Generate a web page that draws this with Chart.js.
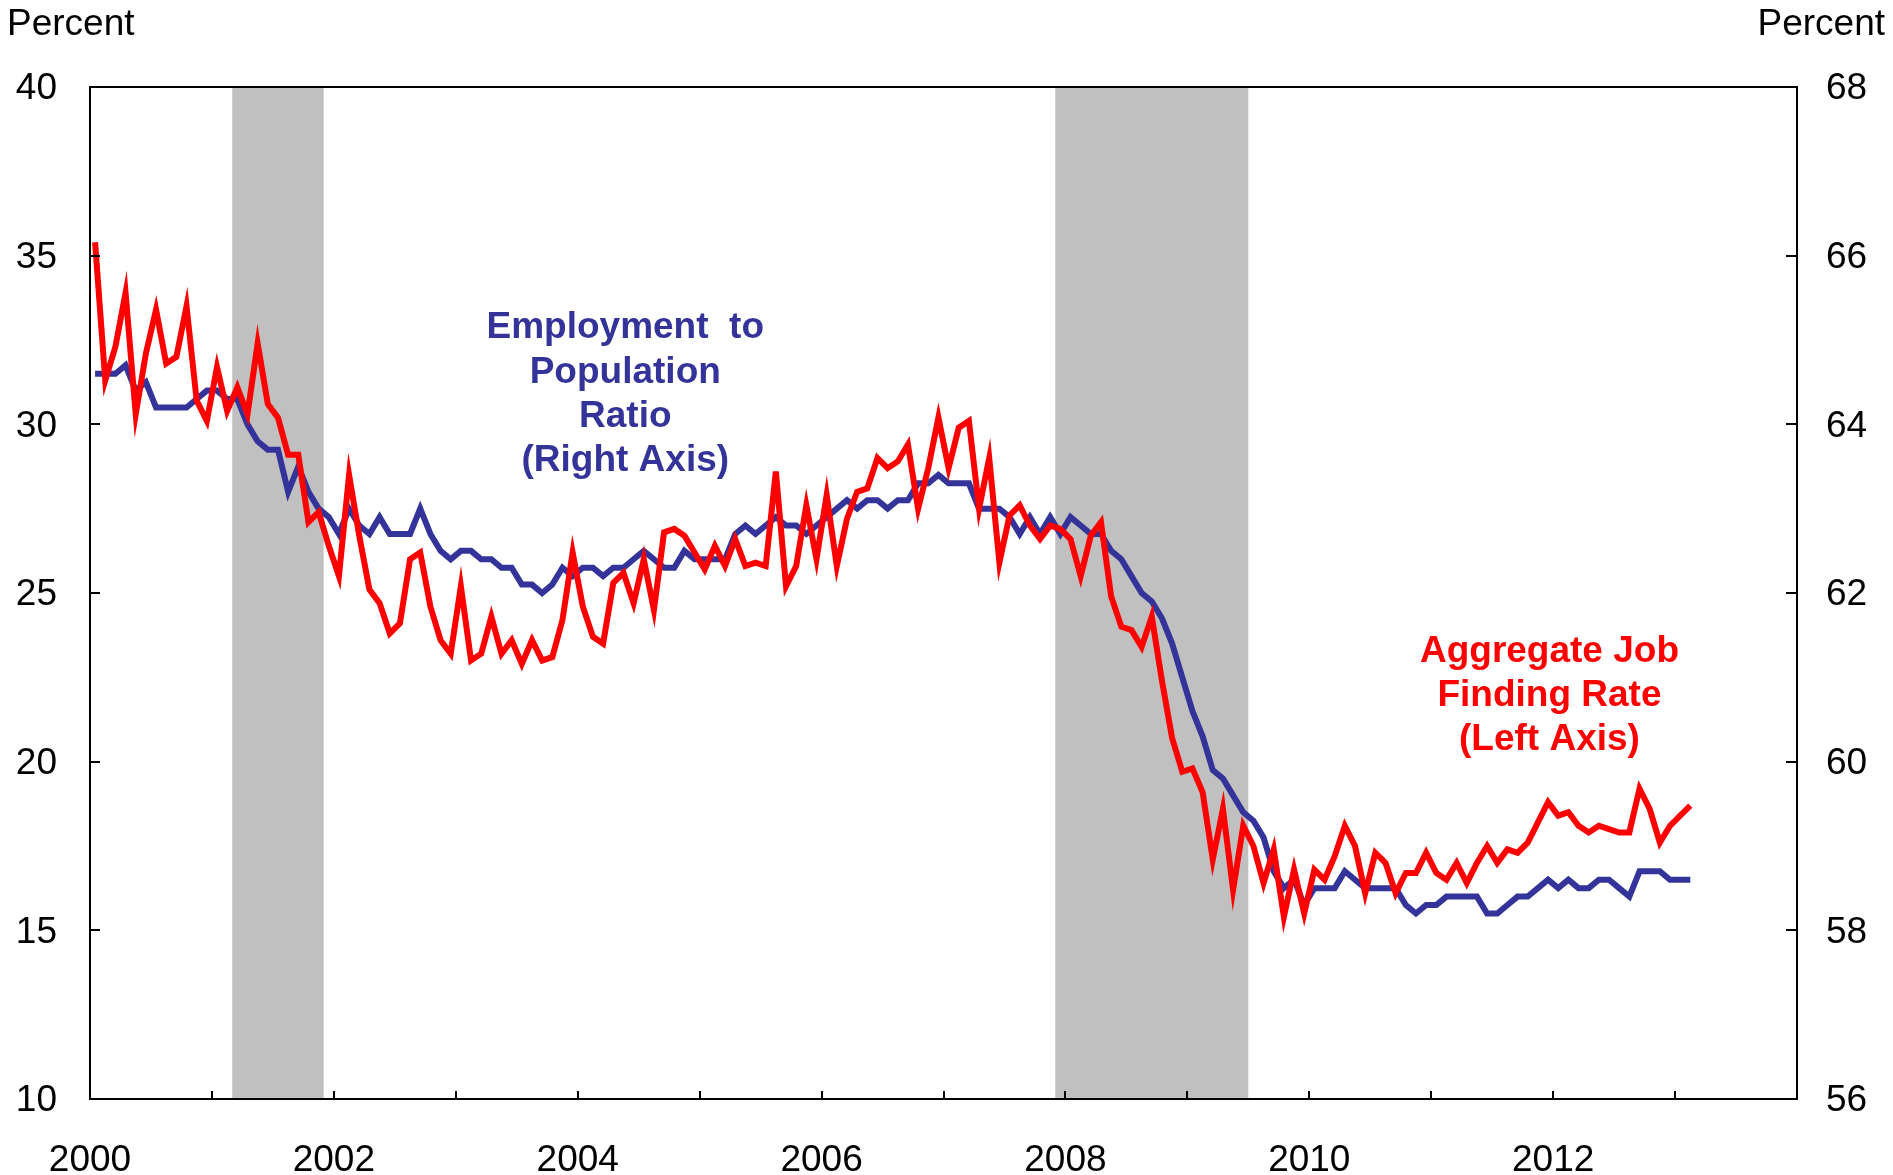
<!DOCTYPE html>
<html>
<head>
<meta charset="utf-8">
<script src="https://cdn.jsdelivr.net/npm/chart.js@4.4.1/dist/chart.umd.min.js"></script>
<style>
  html, body { margin: 0; padding: 0; background: #ffffff; }
  #wrap { width: 1893px; height: 1175px; position: relative; }
</style>
</head>
<body>
<div id="wrap"><canvas id="c" width="1893" height="1175"></canvas></div>
<script>
// ---------------- DATA ----------------
const startYear = 2000;   // first observation: January 2000 (monthly data)
const jobFindingRate = [ // Aggregate Job Finding Rate, percent (left axis)
  35.4,31.3,32.3,33.9,30.3,32.1,33.4,31.8,32.0,33.5,30.7,30.1,
  31.7,30.4,31.1,30.3,32.4,30.6,30.2,29.1,29.1,27.1,27.4,26.4,
  25.5,28.5,26.7,25.1,24.7,23.8,24.1,26.0,26.2,24.6,23.6,23.2,
  25.2,23.0,23.2,24.3,23.2,23.6,22.9,23.6,23.0,23.1,24.2,26.2,
  24.6,23.7,23.5,25.3,25.6,24.7,26.0,24.5,26.8,26.9,26.7,26.2,
  25.7,26.4,25.8,26.6,25.8,25.9,25.8,28.6,25.2,25.8,27.6,26.0,
  27.9,25.8,27.2,28.0,28.1,29.0,28.7,28.9,29.4,27.5,28.7,30.2,
  28.7,29.9,30.1,27.5,29.0,25.9,27.3,27.6,27.0,26.6,27.0,26.9,
  26.6,25.5,26.7,27.1,24.9,24.0,23.9,23.4,24.3,22.4,20.7,19.7,
  19.8,19.1,17.1,18.6,16.2,18.1,17.5,16.4,17.4,15.4,16.8,15.5,
  16.8,16.5,17.2,18.1,17.5,16.1,17.3,17.0,16.1,16.7,16.7,17.3,
  16.7,16.5,17.0,16.4,17.0,17.5,17.0,17.4,17.3,17.6,18.2,18.8,
  18.4,18.5,18.1,17.9,18.1,18.0,17.9,17.9,19.2,18.6,17.6,18.1,
  18.4,18.7
];
const empPopRatio = [ // Employment to Population Ratio, percent (right axis)
  64.6,64.6,64.6,64.7,64.4,64.5,64.2,64.2,64.2,64.2,64.3,64.4,
  64.4,64.3,64.3,64.0,63.8,63.7,63.7,63.2,63.5,63.2,63.0,62.9,
  62.7,63.0,62.8,62.7,62.9,62.7,62.7,62.7,63.0,62.7,62.5,62.4,
  62.5,62.5,62.4,62.4,62.3,62.3,62.1,62.1,62.0,62.1,62.3,62.2,
  62.3,62.3,62.2,62.3,62.3,62.4,62.5,62.4,62.3,62.3,62.5,62.4,
  62.4,62.4,62.4,62.7,62.8,62.7,62.8,62.9,62.8,62.8,62.7,62.8,
  62.9,63.0,63.1,63.0,63.1,63.1,63.0,63.1,63.1,63.3,63.3,63.4,
  63.3,63.3,63.3,63.0,63.0,63.0,62.9,62.7,62.9,62.7,62.9,62.7,
  62.9,62.8,62.7,62.7,62.5,62.4,62.2,62.0,61.9,61.7,61.4,61.0,
  60.6,60.3,59.9,59.8,59.6,59.4,59.3,59.1,58.7,58.5,58.6,58.3,
  58.5,58.5,58.5,58.7,58.6,58.5,58.5,58.5,58.5,58.3,58.2,58.3,
  58.3,58.4,58.4,58.4,58.4,58.2,58.2,58.3,58.4,58.4,58.5,58.6,
  58.5,58.6,58.5,58.5,58.6,58.6,58.5,58.4,58.7,58.7,58.7,58.6,
  58.6,58.6
];
const recessionStarts = [2001 + 2/12, 2007 + 11/12];   // Mar 2001, Dec 2007
const recessionEnds   = [2001 + 11/12, 2009 + 6/12];   // end Nov 2001, end Jun 2009
const leftTicks  = [10, 15, 20, 25, 30, 35, 40];
const rightTicks = [56, 58, 60, 62, 64, 66, 68];
const yearTicks  = [2000,2001,2002,2003,2004,2005,2006,2007,2008,2009,2010,2011,2012,2013,2014];
const yearLabels = [2000, 2002, 2004, 2006, 2008, 2010, 2012];
const epopLabel = ['Employment  to', 'Population', 'Ratio', '(Right Axis)'];
const jfrLabel  = ['Aggregate Job', 'Finding Rate', '(Left Axis)'];
const axisTitle = 'Percent';

// month categories -> decimal-year positions (middle of each month)
const months = jobFindingRate.map((_, i) => {
  const y = startYear + Math.floor(i / 12), m = i % 12;
  return { label: y + '-' + String(m + 1).padStart(2, '0'), x: y + (m + 0.5) / 12 };
});

// ---------------- STYLE ----------------
const FONT = "'Liberation Sans', Arial, Helvetica, sans-serif";
const RED = '#FF0000', BLUE = '#333399', SHADE = '#C0C0C0';

const decor = {
  id: 'decor',
  beforeDatasetsDraw(chart) {
    const { ctx, chartArea: a, scales: { x } } = chart;
    ctx.save();
    ctx.fillStyle = SHADE;
    recessionStarts.forEach((s, k) => {
      const x0 = x.getPixelForValue(s), x1 = x.getPixelForValue(recessionEnds[k]);
      ctx.fillRect(x0, a.top, x1 - x0, a.bottom - a.top);
    });
    ctx.restore();
  },
  afterDatasetsDraw(chart) {
    const { ctx, chartArea: a, scales: { x, y, y2 } } = chart;
    ctx.save();
    // frame
    ctx.strokeStyle = '#000';
    ctx.lineWidth = 2;
    ctx.strokeRect(a.left, a.top, a.right - a.left, a.bottom - a.top);
    // inward tick marks
    ctx.beginPath();
    yearTicks.forEach(v => {
      const px = Math.round(x.getPixelForValue(v));
      ctx.moveTo(px, a.bottom); ctx.lineTo(px, a.bottom - 8);
    });
    leftTicks.forEach(v => {
      const py = Math.round(y.getPixelForValue(v));
      ctx.moveTo(a.left, py); ctx.lineTo(a.left + 10, py);
    });
    rightTicks.forEach(v => {
      const py = Math.round(y2.getPixelForValue(v));
      ctx.moveTo(a.right, py); ctx.lineTo(a.right - 11, py);
    });
    ctx.stroke();

    // annotations (alphabetic baselines)
    ctx.textAlign = 'center';
    ctx.textBaseline = 'alphabetic';
    ctx.font = 'bold 37px ' + FONT;
    ctx.fillStyle = BLUE;
    const bx = x.getPixelForValue(2004.39), by = y.getPixelForValue(32.55);
    epopLabel.forEach((t, k) => ctx.fillText(t, bx, by + k * 44.3));
    ctx.fillStyle = RED;
    const rx = x.getPixelForValue(2011.97), ry = y.getPixelForValue(22.95);
    jfrLabel.forEach((t, k) => ctx.fillText(t, rx, ry + k * 43.7));

    // axis titles
    ctx.font = '37px ' + FONT;
    ctx.fillStyle = '#000';
    ctx.textAlign = 'left';
    ctx.fillText(axisTitle, 7, 35);
    ctx.textAlign = 'right';
    ctx.fillText(axisTitle, chart.width - 8, 35);
    ctx.restore();
  }
};

new Chart(document.getElementById('c'), {
  type: 'line',
  data: {
    labels: months.map(m => m.label),
    datasets: [
      {
        label: 'Aggregate Job Finding Rate (Left Axis)',
        data: months.map((m, i) => ({ x: m.x, y: jobFindingRate[i] })),
        yAxisID: 'y',
        borderColor: RED,
        borderWidth: 6,
        pointRadius: 0,
        tension: 0,
        fill: false,
        borderJoinStyle: 'miter'
      },
      {
        label: 'Employment to Population Ratio (Right Axis)',
        data: months.map((m, i) => ({ x: m.x, y: empPopRatio[i] })),
        yAxisID: 'y2',
        borderColor: BLUE,
        borderWidth: 6,
        pointRadius: 0,
        tension: 0,
        fill: false,
        borderJoinStyle: 'miter'
      }
    ]
  },
  options: {
    responsive: false,
    devicePixelRatio: 1,
    animation: false,
    layout: { padding: { top: 87, left: 0, right: 0, bottom: 0 } },
    plugins: { legend: { display: false }, tooltip: { enabled: false } },
    scales: {
      x: {
        type: 'linear',
        position: 'bottom',
        min: 2000, max: 2014,
        afterBuildTicks: s => { s.ticks = yearTicks.map(v => ({ value: v })); },
        afterFit: s => { s.height = 76; },
        grid: { display: false, drawTicks: false },
        border: { display: false },
        ticks: {
          autoSkip: false,
          maxRotation: 0,
          padding: 40,
          color: '#000',
          font: { family: FONT, size: 37 },
          callback: v => yearLabels.includes(v) ? String(v) : ''
        }
      },
      y: {
        type: 'linear',
        position: 'left',
        min: 10, max: 40,
        afterBuildTicks: s => { s.ticks = leftTicks.map(v => ({ value: v })); },
        afterFit: s => { s.width = 90; },
        grid: { display: false, drawTicks: false },
        border: { display: false },
        ticks: { padding: 33, labelOffset: 2, color: '#000', font: { family: FONT, size: 37 } }
      },
      y2: {
        type: 'linear',
        position: 'right',
        min: 56, max: 68,
        afterBuildTicks: s => { s.ticks = rightTicks.map(v => ({ value: v })); },
        afterFit: s => { s.width = 96; },
        grid: { display: false, drawTicks: false },
        border: { display: false },
        ticks: { padding: 29, labelOffset: 2, color: '#000', font: { family: FONT, size: 37 } }
      }
    }
  },
  plugins: [decor]
});
</script>
</body>
</html>
